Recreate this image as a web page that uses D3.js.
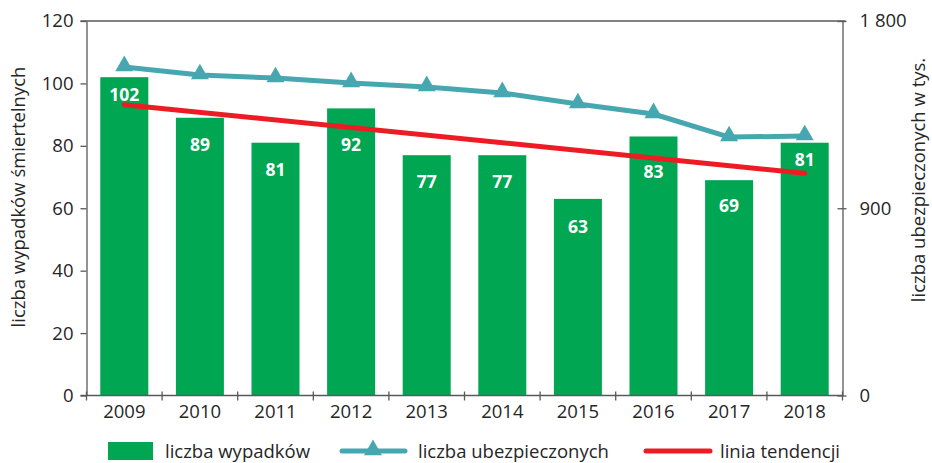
<!DOCTYPE html>
<html>
<head>
<meta charset="utf-8">
<script src="https://cdn.jsdelivr.net/npm/d3@7"></script>
<style>
  body { margin: 0; background: #fff; }
  svg text { font-family: "Open Sans", sans-serif; fill: #262626; }
  .axis path, .axis line { stroke: #595959; stroke-width: 1.3; }
  .axis text { font-size: 18.5px; }
  .barlabel { font-weight: bold; font-size: 17.5px; fill: #fff; }
</style>
</head>
<body>
<div id="container"></div>
<script>
// categories and series
var years = ["2009", "2010", "2011", "2012", "2013", "2014", "2015", "2016", "2017", "2018"];
var accidents = [102, 89, 81, 92, 77, 77, 63, 83, 69, 81];            // liczba wypadków
var insured = [1579, 1540, 1526, 1502, 1483, 1454, 1401, 1353, 1242, 1247]; // w tys.
var trendEnds = [93.2, 71.2];                                           // linia tendencji 2009 -> 2018
var leftTicks = [0, 20, 40, 60, 80, 100, 120];
var rightTicks = [0, 900, 1800];

var width = 932, height = 463;
var plotLeft = 86.5, plotRight = 842.5, plotTop = 21, plotBottom = 395.5;

var green = "#00a651", teal = "#47a7b1", red = "#ed1c24";

var svg = d3.select("#container").append("svg")
    .attr("width", width)
    .attr("height", height);

//Scales
var x = d3.scaleBand()
    .domain(years)
    .range([plotLeft, plotRight])
    .paddingInner(0.365)
    .paddingOuter(0.1825);

var xb = d3.scaleBand().domain(years).range([plotLeft, plotRight]); // category boundaries

var yL = d3.scaleLinear().domain([0, 120]).range([plotBottom, plotTop]);
var yR = d3.scaleLinear().domain([0, 1800]).range([plotBottom, plotTop]);

var cx = function(d) { return x(d) + x.bandwidth() / 2; };

//Bars
svg.append("g").selectAll("rect")
    .data(accidents)
    .enter()
    .append("rect")
    .attr("x", function(d, i) { return x(years[i]); })
    .attr("y", function(d) { return yL(d); })
    .attr("width", x.bandwidth())
    .attr("height", function(d) { return yL(0) - yL(d); })
    .attr("fill", green);

//Frame line on top
svg.append("line")
    .attr("x1", plotLeft - 6).attr("x2", plotRight + 3)
    .attr("y1", plotTop).attr("y2", plotTop)
    .attr("stroke", "#595959").attr("stroke-width", 1.3);

//Left axis
svg.append("g")
    .attr("class", "axis")
    .attr("transform", "translate(" + plotLeft + ",0)")
    .call(d3.axisLeft(yL).tickValues(leftTicks).tickSize(6).tickSizeOuter(0).tickPadding(7));

//Right axis
var rAxis = svg.append("g")
    .attr("class", "axis")
    .attr("transform", "translate(" + plotRight + ",0)")
    .call(d3.axisRight(yR).tickValues(rightTicks).tickSize(4).tickSizeOuter(0).tickPadding(13)
        .tickFormat(function(d) { return d3.format(",")(d).replace(",", " "); }));
rAxis.selectAll(".tick line").attr("x1", -5);

//Bottom axis: labels centred, ticks on category boundaries
var xAxis = svg.append("g")
    .attr("class", "axis")
    .attr("transform", "translate(0," + plotBottom + ")")
    .call(d3.axisBottom(x).tickSize(0).tickSizeOuter(0).tickPadding(9));
xAxis.select(".domain").attr("d", "M" + (plotLeft - 6) + ",0H" + plotRight);
xAxis.selectAll(".bound")
    .data(years.concat(["end"]))
    .enter()
    .append("line")
    .attr("class", "bound")
    .attr("x1", function(d) { return d === "end" ? plotRight : xb(d); })
    .attr("x2", function(d) { return d === "end" ? plotRight : xb(d); })
    .attr("y1", -4).attr("y2", 5);

//Axis titles
svg.append("text")
    .attr("transform", "translate(25,197) rotate(-90)")
    .attr("text-anchor", "middle")
    .style("font-size", "18.5px")
    .text("liczba wypadków śmiertelnych");

svg.append("text")
    .attr("transform", "translate(925,180) rotate(-90)")
    .attr("text-anchor", "middle")
    .style("font-size", "18.5px")
    .text("liczba ubezpieczonych w tys.");

//Trend line
svg.append("line")
    .attr("x1", cx(years[0])).attr("y1", yL(trendEnds[0]))
    .attr("x2", cx(years[years.length - 1])).attr("y2", yL(trendEnds[1]))
    .attr("stroke", red).attr("stroke-width", 5).attr("stroke-linecap", "round");

//Insured line
var line = d3.line()
    .x(function(d, i) { return cx(years[i]); })
    .y(function(d) { return yR(d); });

svg.append("path")
    .datum(insured)
    .attr("d", line)
    .attr("fill", "none")
    .attr("stroke", teal)
    .attr("stroke-width", 5)
    .attr("stroke-linejoin", "round");

var tri = d3.symbol().type(d3.symbolTriangle).size(140);
svg.append("g").selectAll("path")
    .data(insured)
    .enter()
    .append("path")
    .attr("d", tri)
    .attr("transform", function(d, i) { return "translate(" + cx(years[i]) + "," + (yR(d) - 1) + ")"; })
    .attr("fill", teal);

//Bar labels (shifted down where the lines cross the bar top)
var labelShift = [18, 27, 27, 37, 27, 27, 28, 36, 26, 17];
svg.append("g").selectAll("text")
    .data(accidents)
    .enter()
    .append("text")
    .attr("class", "barlabel")
    .attr("x", function(d, i) { return cx(years[i]); })
    .attr("y", function(d, i) { return yL(d) + labelShift[i] + 6; })
    .attr("text-anchor", "middle")
    .text(function(d) { return d; });

//Legend
var legend = svg.append("g").attr("class", "legend");
legend.append("rect")
    .attr("x", 108).attr("y", 442).attr("width", 45).attr("height", 18)
    .attr("fill", green);
legend.append("text").attr("x", 165).attr("y", 458).style("font-size", "18.5px").text("liczba wypadków");

legend.append("line")
    .attr("x1", 342).attr("x2", 405).attr("y1", 451).attr("y2", 451)
    .attr("stroke", teal).attr("stroke-width", 5).attr("stroke-linecap", "round");
legend.append("path").attr("d", tri).attr("transform", "translate(373,450)").attr("fill", teal);
legend.append("text").attr("x", 418).attr("y", 458).style("font-size", "18.5px").text("liczba ubezpieczonych");

legend.append("line")
    .attr("x1", 646).attr("x2", 710).attr("y1", 451).attr("y2", 451)
    .attr("stroke", red).attr("stroke-width", 5).attr("stroke-linecap", "round");
legend.append("text").attr("x", 720).attr("y", 458).style("font-size", "18.5px").text("linia tendencji");
</script>
</body>
</html>
